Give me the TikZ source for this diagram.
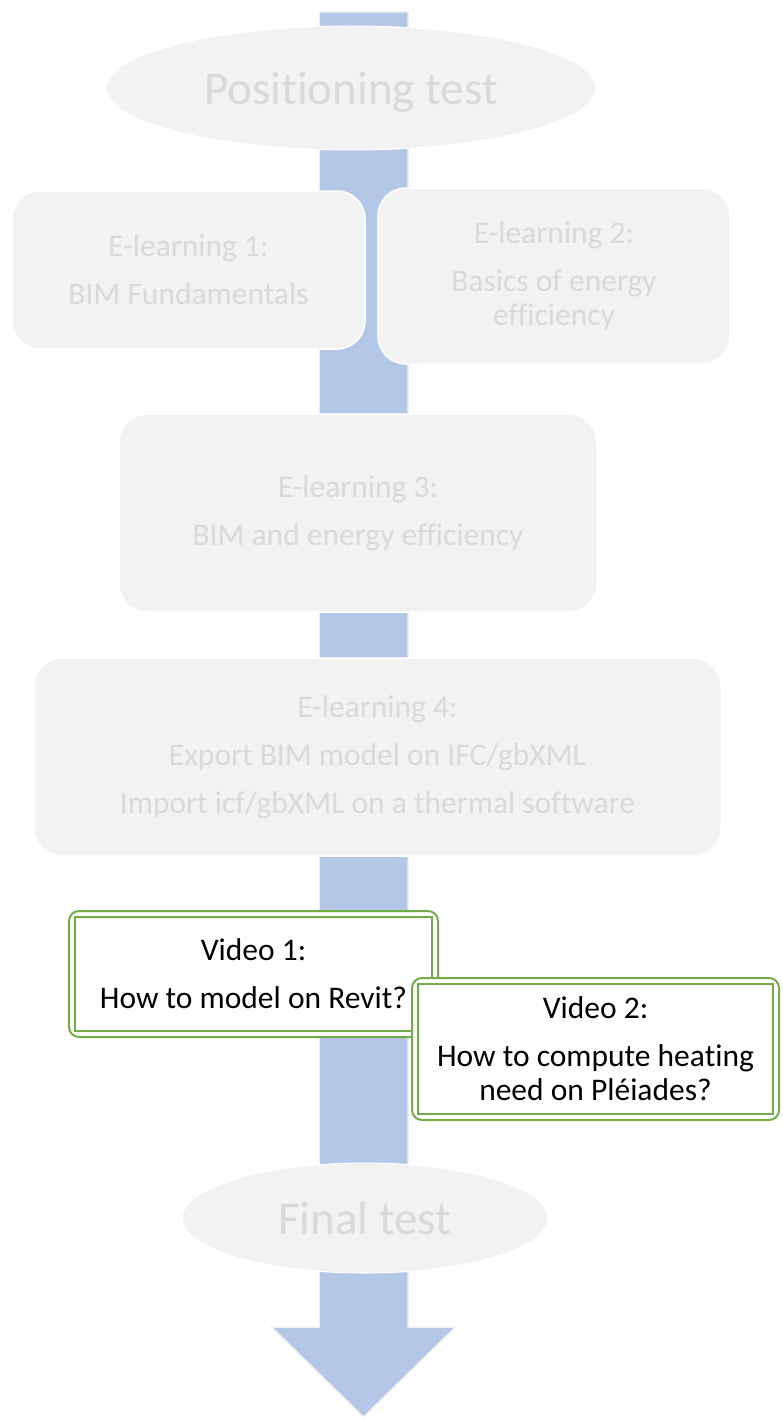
\documentclass[tikz,border=0pt]{standalone}
\usepackage{fontspec}
\setmainfont{Carlito}[RawFeature={-liga;-clig;-calt;-dlig}]
\usetikzlibrary{shapes.geometric,positioning}
\definecolor{boxgrey}{HTML}{F2F2F2}
\definecolor{textgrey}{HTML}{D9D9D9}
\definecolor{shaftblue}{HTML}{B4C7E7}
\definecolor{arrowedge}{HTML}{F0F0F0}
\definecolor{videogreen}{HTML}{70AD47}

\begin{document}
\begin{tikzpicture}[x=1pt,y=-1pt,inner sep=0pt,
    test/.style={ellipse,fill=boxgrey,draw=white,line width=1pt,
      text=textgrey,font=\fontsize{47}{56}\selectfont},
    course/.style={rectangle,rounded corners=28pt,fill=boxgrey,draw=white,
      line width=1.5pt,text=textgrey,align=center,
      font=\fontsize{31.5}{34}\selectfont},
    video/.style={rectangle,rounded corners=10pt,fill=white,draw=videogreen,
      line width=2pt,align=center,font=\fontsize{31.5}{34}\selectfont},
    videoline/.style={draw=videogreen,line width=2pt}]

    \useasboundingbox (0,0) rectangle (782,1418);

    % big arrow behind everything
    \fill[shaftblue,draw=arrowedge,line width=1.5pt]
        (319,12) -- (408,12) -- (408,1327) -- (455.5,1327) -- (363.5,1417)
        -- (271.5,1327) -- (319,1327) -- cycle;

    \node[test,minimum width=490pt,minimum height=124pt] (pos) at (351,88)
        {\raisebox{-4pt}[\height][\depth]{Positioning test}};

    \node[course,minimum width=353pt,minimum height=158pt] (el1) at (188.5,270)
        {E-learning 1:\\[14pt]BIM Fundamentals};
    \node[course,minimum width=352pt,minimum height=176pt] (el2) at (554,276)
        {E-learning 2:\\[14pt]Basics of energy\\efficiency};
    \node[course,minimum width=478pt,minimum height=198pt] (el3) at (358,513)
        {E-learning 3:\\[14pt]BIM and energy efficiency};
    \node[course,minimum width=687pt,minimum height=198pt] (el4) at (377.5,757)
        {E-learning 4:\\[14pt]Export BIM model on IFC/gbXML\\[14pt]Import icf/gbXML on a thermal software};

    \node[video,minimum width=369pt,minimum height=126pt] (vid1) at (253.5,974)
        {Video 1:\\[14pt]How to model on Revit?};
    \draw[videoline] ([xshift=7pt,yshift=-7pt]vid1.north west) rectangle ([xshift=-7pt,yshift=7pt]vid1.south east);

    \node[video,minimum width=367pt,minimum height=142pt] (vid2) at (595.5,1049)
        {Video 2:\\[14pt]How to compute heating\\need on Pléiades?};
    \draw[videoline] ([xshift=7pt,yshift=-7pt]vid2.north west) rectangle ([xshift=-7pt,yshift=7pt]vid2.south east);

    \node[test,minimum width=366pt,minimum height=110pt] (fin) at (365,1218) {Final test};
\end{tikzpicture}
\end{document}
